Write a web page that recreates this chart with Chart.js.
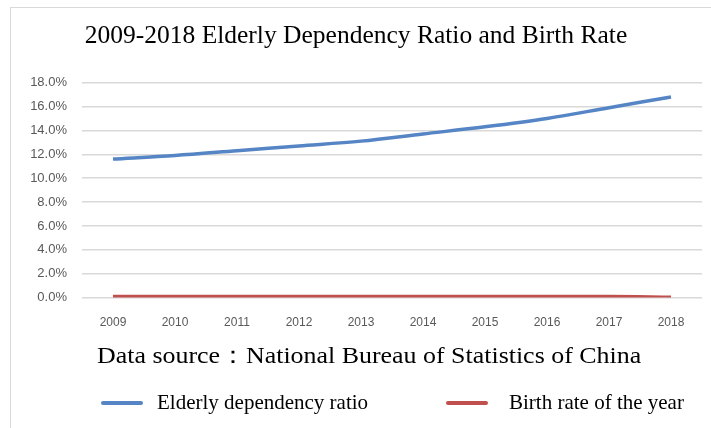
<!DOCTYPE html>
<html>
<head>
<meta charset="utf-8">
<script src="https://cdn.jsdelivr.net/npm/chart.js@4/dist/chart.umd.min.js"></script>
<style>
  body { margin: 0; background: #fff; }
  #wrap { position: relative; width: 711px; height: 428px; overflow: hidden; }
  #frame { position: absolute; left: 10px; top: 7px; width: 740px; height: 460px; border: 1px solid #d9d9d9; pointer-events: none; }
  #source { position: absolute; left: 97px; top: 343px; font: 24px "Liberation Serif", serif; line-height: 24px; color: #000; white-space: nowrap; transform: scaleX(1.08); transform-origin: left center; }
  .item { position: absolute; top: 391px; height: 22px; font: 21px "Liberation Serif", serif; line-height: 22px; color: #000; white-space: nowrap; }
  .item .swatch { display: inline-block; width: 42px; height: 4px; border-radius: 2px; vertical-align: middle; position: relative; top: -1px; }
</style>
</head>
<body>
<div id="wrap">
  <canvas id="chart" width="711" height="428"></canvas>
  <div id="frame"></div>
  <div id="source">Data source：National Bureau of Statistics of China</div>
  <div id="legend"></div>
</div>
<script>
const years = ["2009", "2010", "2011", "2012", "2013", "2014", "2015", "2016", "2017", "2018"];
const elderlyRatio = [11.6, 11.9, 12.3, 12.7, 13.1, 13.7, 14.3, 15.0, 15.9, 16.8];
const birthRate = [0.1, 0.1, 0.1, 0.1, 0.1, 0.1, 0.1, 0.1, 0.1, 0.03];
const seriesNames = ["Elderly dependency ratio", "Birth rate of the year"];
const seriesColors = ["#5585c5", "#c0504d"];
const legendLeft = [101, 446];
const legendGap = [14, 21];

const ctx = document.getElementById("chart").getContext("2d");

const chart = new Chart(ctx, {
  type: "line",
  data: {
    labels: years,
    datasets: [
      {
        label: seriesNames[0],
        data: elderlyRatio,
        borderColor: seriesColors[0],
        backgroundColor: seriesColors[0],
        borderWidth: 3.5,
        pointRadius: 0,
        cubicInterpolationMode: "monotone",
      },
      {
        label: seriesNames[1],
        data: birthRate,
        borderColor: seriesColors[1],
        backgroundColor: seriesColors[1],
        borderWidth: 3.5,
        pointRadius: 0,
        cubicInterpolationMode: "monotone",
      },
    ],
  },
  options: {
    responsive: false,
    animation: false,
    layout: {
      padding: { left: 10, right: 9, top: 0, bottom: 80 },
    },
    plugins: {
      legend: { display: false },
      tooltip: { enabled: false },
      title: {
        display: true,
        text: "2009-2018 Elderly Dependency Ratio and Birth Rate",
        color: "#000",
        font: { family: "'Liberation Serif', serif", size: 25.5, weight: "normal" },
        padding: { top: 21, bottom: 31 },
      },
    },
    scales: {
      x: {
        offset: true,
        grid: { display: false, drawTicks: false },
        border: { display: false },
        ticks: {
          color: "#595959",
          font: { family: "'Liberation Sans', sans-serif", size: 12 },
          padding: 18,
          maxRotation: 0,
        },
      },
      y: {
        min: 0,
        max: 18,
        afterFit: (axis) => { axis.width = 72; },
        grid: { color: "#d9d9d9", lineWidth: 1.5, drawTicks: false },
        border: { display: false },
        ticks: {
          stepSize: 2,
          color: "#595959",
          font: { family: "'Liberation Sans', sans-serif", size: 13 },
          padding: 15,
          callback: (v) => v.toFixed(1) + "%",
        },
      },
    },
  },
});

// html legend built from the datasets
const legend = document.getElementById("legend");
chart.data.datasets.forEach((ds, i) => {
  const item = document.createElement("div");
  item.className = "item";
  item.style.left = legendLeft[i] + "px";
  const sw = document.createElement("span");
  sw.className = "swatch";
  sw.style.background = ds.borderColor;
  sw.style.marginRight = legendGap[i] + "px";
  item.appendChild(sw);
  item.appendChild(document.createTextNode(ds.label));
  legend.appendChild(item);
});
</script>
</body>
</html>
